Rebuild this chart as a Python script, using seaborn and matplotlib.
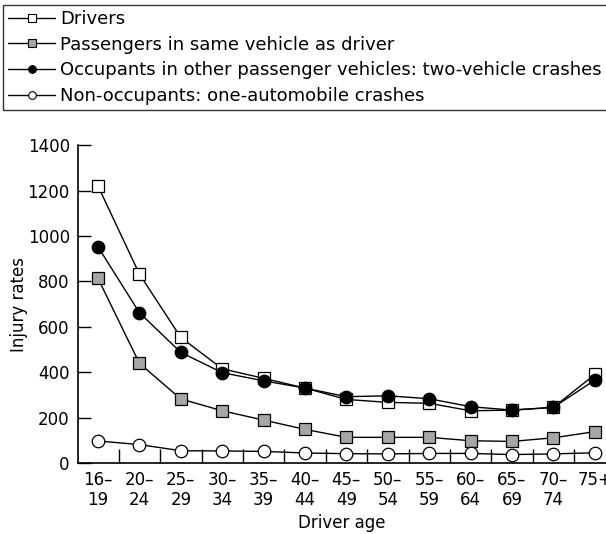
import matplotlib
matplotlib.use("Agg")
import matplotlib.pyplot as plt
import seaborn as sns
import pandas as pd
import numpy as np
from matplotlib.lines import Line2D

age_groups = ["16–\n19", "20–\n24", "25–\n29", "30–\n34", "35–\n39", "40–\n44", "45–\n49",
              "50–\n54", "55–\n59", "60–\n64", "65–\n69", "70–\n74", "75+"]
drivers = [1220, 832, 553, 415, 373, 330, 280, 267, 263, 230, 233, 245, 390]
passengers = [813, 439, 282, 230, 189, 148, 113, 113, 113, 98, 95, 111, 138]
other_occupants = [952, 662, 487, 398, 362, 330, 292, 296, 283, 248, 233, 245, 365]
non_occupants = [97, 81, 54, 53, 51, 44, 41, 40, 42, 42, 37, 40, 45]

series_names = ["Drivers",
                "Passengers in same vehicle as driver",
                "Occupants in other passenger vehicles: two-vehicle crashes",
                "Non-occupants: one-automobile crashes"]
series_values = [drivers, passengers, other_occupants, non_occupants]
markers = ["s", "s", "o", "o"]
facecolors = ["white", "#a6a6a6", "black", "white"]

sns.set_style("ticks")
plt.rcParams['font.family'] = ['DejaVu Sans']
plt.rcParams['text.color'] = 'black'
plt.rcParams['axes.labelcolor'] = 'black'
plt.rcParams['xtick.color'] = 'black'
plt.rcParams['ytick.color'] = 'black'

fig = plt.figure(figsize=(6.06, 5.34), dpi=100)
ax = fig.add_axes([0.129, 0.133, 0.871, 0.595])

x = np.arange(len(age_groups))
draw_order = [3, 1, 0, 2]
for i in draw_order:
    df = pd.DataFrame({"x": x, "y": series_values[i]})
    sns.lineplot(data=df, x="x", y="y", ax=ax, color="black", linewidth=1.0,
                 marker=markers[i], markersize=8.5 if markers[i] == "s" else 9,
                 markerfacecolor=facecolors[i], markeredgecolor="black",
                 markeredgewidth=0.9, legend=False, zorder=3 + i)

ax.set_xlim(-0.48, 12.27)
ax.set_ylim(0, 1400)
ax.set_yticks(range(0, 1401, 200))
ax.tick_params(axis="y", direction="in", length=9, width=1, labelsize=12, pad=6)
ax.set_xticks(x)
ax.set_xticklabels(age_groups, fontsize=12, linespacing=1.1)
ax.tick_params(axis="x", which="major", length=0, pad=6)
ax.set_xticks(np.arange(0.5, 12, 1), minor=True)
ax.tick_params(axis="x", which="minor", direction="in", length=10, width=1)
for s in ["top", "right"]:
    ax.spines[s].set_visible(False)
for s in ["left", "bottom"]:
    ax.spines[s].set_linewidth(1.2)
    ax.spines[s].set_color("black")
ax.set_xlabel("Driver age", fontsize=12, labelpad=4)
ax.set_ylabel("Injury rates", fontsize=12, labelpad=0)

handles = [Line2D([0], [0], color="black", linewidth=1.0, marker=markers[i], markersize=5.5,
                  markerfacecolor=facecolors[i], markeredgecolor="black", markeredgewidth=0.8)
           for i in range(4)]
leg = fig.legend(handles, series_names, loc="upper left", bbox_to_anchor=(0.005, 0.991),
                 frameon=True, fancybox=False, fontsize=13, handlelength=2.6,
                 handletextpad=0.25, labelspacing=0.42, borderpad=0.3, borderaxespad=0)
leg.get_frame().set_edgecolor("black")
leg.get_frame().set_linewidth(1.0)

fig.savefig("out.png", dpi=100)
